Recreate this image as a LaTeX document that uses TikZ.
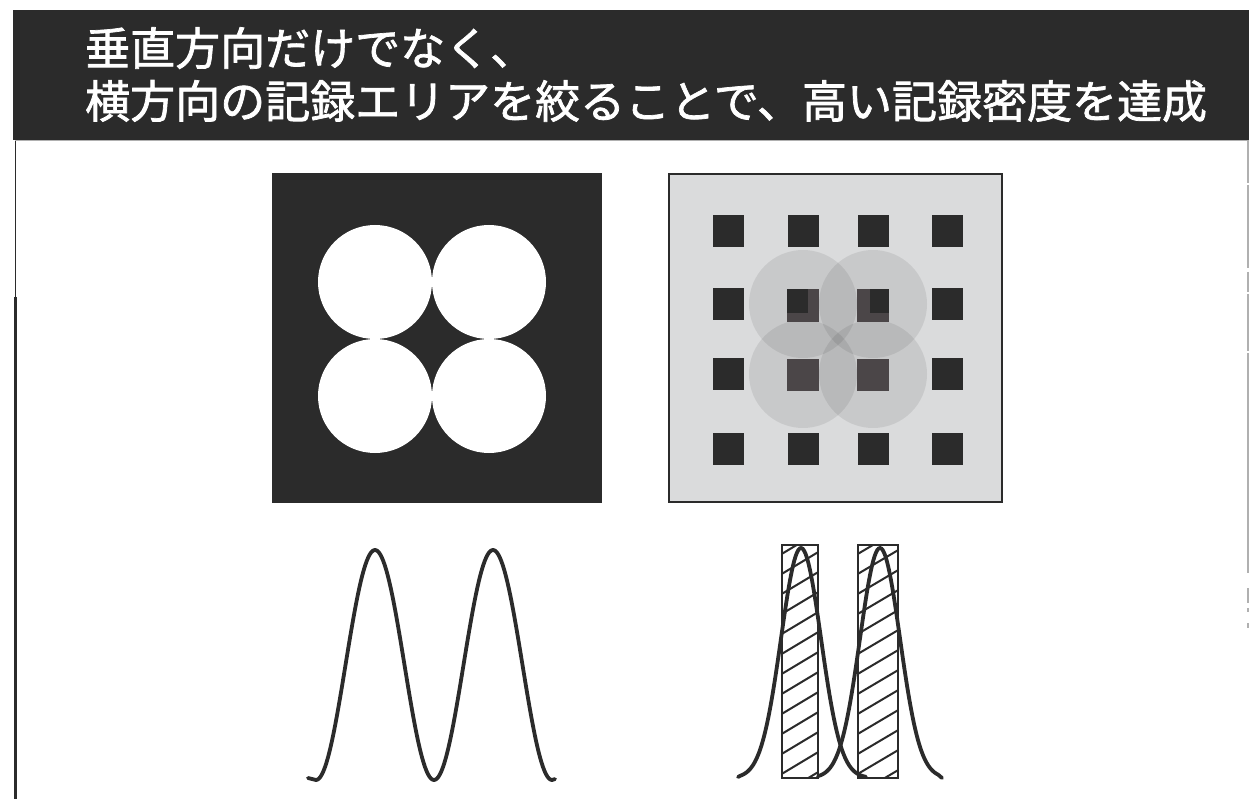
\documentclass[tikz,border=0pt]{standalone}
\usepackage{fontspec}
\newfontfamily\jpfont{Noto Sans CJK JP}[FakeBold=1.6]
\definecolor{ink}{HTML}{2B2B2B}
\definecolor{panelgray}{HTML}{DADBDC}
\definecolor{covered}{HTML}{4B4648}
\definecolor{edgegray}{HTML}{B0B0B0}
\tikzset{
  headtext/.style={anchor=west, inner sep=0pt, text=white, font=\jpfont\fontsize{45}{54}\selectfont},
  dot/.style={fill=ink, draw=none},
  spot/.style={fill=black, fill opacity=0.08, draw=none},
  curve/.style={draw=ink, line width=3.8pt, line cap=round, line join=round},
  hatchbox/.style={draw=ink, line width=2.5pt},
  hatchline/.style={draw=ink, line width=2pt}
}
\begin{document}
\begin{tikzpicture}[x=1pt,y=-1pt]
\useasboundingbox (0,0) rectangle (1249,799);
\fill[white] (0,0) rectangle (1249,799);
% header band
\fill[ink] (13,10) rectangle (1249,140);
\node[headtext] (t1) at (85,48) {垂直方向だけでなく、};
\node[headtext] (t2) at (85,101) {横方向の記録エリアを絞ることで、高い記録密度を達成};
% frame lines below header
\draw[ink, line width=1pt] (15,140) -- (15,297);
\draw[ink, line width=3pt] (15.5,297) -- (15.5,799);
\draw[edgegray, line width=0.8pt] (15,140.5) -- (1249,140.5);
\foreach \a/\b in {140/183,185/268,272/292,294/351,353/573,588/603,608/612,623/628}
  \draw[edgegray, line width=1.5pt] (1248,\a) -- (1248,\b);
% left panel
\fill[ink] (272,173) rectangle (602,503);
\foreach \cx/\cy in {375/282,489/282,375/396,489/396}
  \fill[white] (\cx,\cy) circle (57);
% right panel
\filldraw[fill=panelgray, draw=ink, line width=1.5pt] (669,174) rectangle (1002,502);
\foreach \cx/\cy in {803/304,873/304,803/374,873/374}
  \fill[spot] (\cx,\cy) circle (54);
\foreach \cx in {728,803,873,947}
  \foreach \cy in {231,449}
    \fill[dot] (\cx-15.5,\cy-16) rectangle (\cx+15.5,\cy+16);
\foreach \cy in {304,374}
  \foreach \cx in {728,947}
    \fill[dot] (\cx-15.5,\cy-16) rectangle (\cx+15.5,\cy+16);
% covered squares
\fill[covered] (787,289) rectangle (819,322);
\fill[ink] (787,289) rectangle (808,313);
\fill[covered] (857,289) rectangle (889,322);
\fill[ink] (870,289) rectangle (889,313);
\fill[covered] (787,359) rectangle (819,391);
\fill[covered] (857,359) rectangle (889,391);
% hatched boxes
\begin{scope}
  \clip (782,545) rectangle (818,778);
  \foreach \yy in {555,575,...,815}
    \draw[hatchline] (780,\yy) -- (820,\yy-24);
\end{scope}
\begin{scope}
  \clip (858,545) rectangle (898,778);
  \foreach \yy in {555,575,...,815}
    \draw[hatchline] (856,\yy) -- (900,\yy-26);
\end{scope}
\draw[hatchbox] (782,545) rectangle (818,778);
\draw[hatchbox] (858,545) rectangle (898,778);
% left curve (two raised-cosine bumps)
\draw[curve] (308,778) -- (316,780)
  -- plot[domain=316:434, samples=80] (\x, {780-115*(1+cos(180*(\x-375)/59))})
  -- plot[domain=434:552, samples=80] (\x, {780-115*(1+cos(180*(\x-493)/59))})
  -- (555,779);
% right curves (two gaussian bumps)
\draw[curve] (738,777) -- plot[domain=741:866, samples=90] (\x, {778-230*exp(-((\x-801)^2)/800)});
\draw[curve] plot[domain=818:938, samples=90] (\x, {778-230*exp(-((\x-880)^2)/800)}) -- (942,778);
\end{tikzpicture}
\end{document}
